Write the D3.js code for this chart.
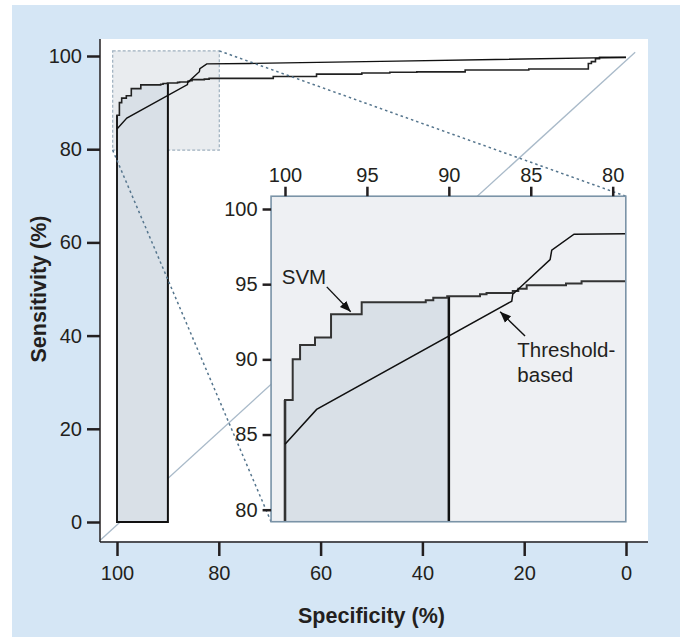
<!DOCTYPE html>
<html>
<head>
<meta charset="utf-8">
<script src="https://cdn.jsdelivr.net/npm/d3@7"></script>
<style>
  body { margin: 0; background: #fff; }
  text { fill: #231f20; }
</style>
</head>
<body>
<div id="chart"></div>
<script>
// ROC data (specificity %, sensitivity %)
const svmSpec = [100, 100, 99.53, 99.08, 98.17, 97.19, 95.32, 91.41, 90.95, 90.1, 88.1, 87.7, 86.1, 85.76, 85.25, 82.85, 81.9, 69.3, 60.8, 51.9, 46.4, 41.1, 31.6, 19.1, 7.4, 6.8, 6.0, 5.2, 0]
const svmSens = [0, 87.3, 90.0, 90.95, 91.46, 93.0, 93.8, 93.93, 94.1, 94.2, 94.33, 94.42, 94.55, 94.7, 94.93, 95.04, 95.2, 95.6, 96.1, 96.35, 96.5, 96.6, 97.0, 97.2, 98.4, 98.8, 99.4, 99.7, 99.7]

const thrSpec = [100, 98.07, 86.16, 86.1, 83.82, 83.72, 82.36, 74, 45, 0]
const thrSens = [84.35, 86.67, 93.87, 94.33, 96.64, 97.26, 98.32, 98.4, 98.9, 99.7]

const diagSpec = [103.3, -1.8]
const diagSens = [-3.9, 100.8]

const xTicks = [100, 80, 60, 40, 20, 0]
const yTicks = [0, 20, 40, 60, 80, 100]
const insetXTicks = [100, 95, 90, 85, 80]
const insetYTicks = [80, 85, 90, 95, 100]

// zoomed window (main plot) and inset extent
const zoomSpec = [100.85, 79.9], zoomSens = [79.8, 101.1]
const insetSpec = [100.85, 79.2], insetSens = [79.2, 100.85]
const pauc = [100, 90]   // partial AUC band

const labels = [
  { text: "SVM", spec: 100.2, sens: 95.0 },
  { text: "Threshold-", spec: 85.82, sens: 90.17 },
  { text: "based", spec: 85.82, sens: 88.5 }
]
const arrows = [
  { from: [97.45, 94.82], to: [95.99, 93.16] },
  { from: [85.35, 91.56], to: [86.87, 93.16] }
]

const svmData = svmSpec.map((s, i) => ({ spec: s, sens: svmSens[i] }))
const thrData = thrSpec.map((s, i) => ({ spec: s, sens: thrSens[i] }))

const FONT = '"Liberation Sans", Arial, Helvetica, sans-serif'
const W = 680, H = 637

var svg = d3.select("#chart").append("svg")
    .attr("width", W).attr("height", H)

// background and plotting panel
svg.append("rect").attr("x", 12).attr("y", 5).attr("width", W - 12).attr("height", H - 5)
    .attr("fill", "#d5e6f5")
svg.append("rect").attr("x", 100).attr("y", 39).attr("width", 548).attr("height", 502)
    .attr("fill", "#fff")

var x = d3.scaleLinear().domain([100, 0]).range([117, 626])
var y = d3.scaleLinear().domain([0, 100]).range([522, 56])

var xi = d3.scaleLinear().domain([100, 80]).range([285, 612.7])
var yi = d3.scaleLinear().domain([80, 100]).range([509.7, 209])

var defs = svg.append("defs")
defs.append("marker").attr("id", "arrow")
    .attr("viewBox", "0 0 10 10").attr("refX", 10).attr("refY", 5)
    .attr("markerWidth", 11).attr("markerHeight", 11)
    .attr("markerUnits", "userSpaceOnUse")
    .attr("orient", "auto")
    .append("path").attr("d", "M0,1 L10,5 L0,9 Z").attr("fill", "#111")

defs.append("clipPath").attr("id", "mainclip")
    .append("rect").attr("x", 100).attr("y", 39).attr("width", 548).attr("height", 502)
defs.append("clipPath").attr("id", "insetclip")
    .append("rect")
    .attr("x", xi(insetSpec[0])).attr("y", yi(insetSens[1]))
    .attr("width", xi(insetSpec[1]) - xi(insetSpec[0]))
    .attr("height", yi(insetSens[0]) - yi(insetSens[1]))

var main = svg.append("g").attr("clip-path", "url(#mainclip)")

// zoom window
main.append("rect")
    .attr("x", x(zoomSpec[0])).attr("y", y(zoomSens[1]))
    .attr("width", x(zoomSpec[1]) - x(zoomSpec[0]))
    .attr("height", y(zoomSens[0]) - y(zoomSens[1]))
    .attr("fill", "#e9ecef")
    .attr("stroke", "#9eb0bf").attr("stroke-width", 1.2)
    .attr("stroke-dasharray", "3,2")

// chance diagonal
main.append("line")
    .attr("x1", x(diagSpec[0])).attr("y1", y(diagSens[0]))
    .attr("x2", x(diagSpec[1])).attr("y2", y(diagSens[1]))
    .attr("stroke", "#a9bac9").attr("stroke-width", 1.3)

function paucArea(xs, ys, base) {
    const pts = svmData.filter(d => d.spec >= pauc[1])
    pts.push({ spec: pauc[1], sens: pts[pts.length - 1].sens })
    return d3.area().curve(d3.curveStepAfter)
        .x(d => xs(d.spec)).y0(ys(base)).y1(d => ys(d.sens))(pts)
}
function paucEdge(xs, ys, base) {
    const top0 = svmData.filter(d => d.spec >= pauc[0]).slice(-1)[0].sens
    const top1 = svmData.filter(d => d.spec >= pauc[1]).slice(-1)[0].sens
    return d3.line()([[xs(pauc[0]), ys(top0)], [xs(pauc[0]), ys(base)],
        [xs(pauc[1]), ys(base)], [xs(pauc[1]), ys(top1)]])
}

main.append("path").attr("d", paucArea(x, y, 0)).attr("fill", "#d9e0e7")
main.append("path").attr("d", paucEdge(x, y, 0))
    .attr("fill", "none").attr("stroke", "#111").attr("stroke-width", 2)

var lineMain = d3.line().x(d => x(d.spec)).y(d => y(d.sens))
main.append("path").datum(svmData)
    .attr("d", lineMain.curve(d3.curveStepAfter))
    .attr("fill", "none").attr("stroke", "#222").attr("stroke-width", 1.6)
main.append("path").datum(thrData)
    .attr("d", d3.line().x(d => x(d.spec)).y(d => y(d.sens)))
    .attr("fill", "none").attr("stroke", "#111").attr("stroke-width", 1.4)

// connectors from zoom window to inset
svg.append("g").selectAll("line")
    .data([[[zoomSpec[1], zoomSens[1]], [insetSpec[1], insetSens[1]]],
           [[zoomSpec[0], zoomSens[0]], [insetSpec[0], insetSens[0]]]])
    .enter().append("line")
    .attr("x1", d => x(d[0][0])).attr("y1", d => y(d[0][1]))
    .attr("x2", d => xi(d[1][0])).attr("y2", d => yi(d[1][1]))
    .attr("stroke", "#55758d").attr("stroke-width", 1.5)
    .attr("stroke-dasharray", "2.5,3")

// main axes
function styleAxis(g, size) {
    g.select(".domain").remove()
    g.attr("font-family", FONT).attr("font-size", size)
    g.selectAll(".tick line").attr("stroke", "#231f20").attr("stroke-width", 2.5)
    g.selectAll(".tick text").attr("fill", "#231f20")
}

svg.append("g").attr("transform", "translate(100,0)")
    .call(d3.axisLeft(y).tickValues(yTicks).tickSize(13).tickPadding(5))
    .call(g => styleAxis(g, 20))
svg.append("g").attr("transform", "translate(0,542)")
    .call(d3.axisBottom(x).tickValues(xTicks).tickSize(14).tickPadding(10))
    .call(g => styleAxis(g, 20))

svg.append("line").attr("x1", 100).attr("x2", 100).attr("y1", 39).attr("y2", 542)
    .attr("stroke", "#231f20").attr("stroke-width", 1.5)
svg.append("line").attr("x1", 100).attr("x2", 648).attr("y1", 542).attr("y2", 542)
    .attr("stroke", "#231f20").attr("stroke-width", 1.5)

svg.append("text")
    .attr("transform", "translate(46," + (y(50)) + ") rotate(-90)")
    .attr("text-anchor", "middle")
    .attr("font-family", FONT).attr("font-size", 21.5).attr("font-weight", "bold")
    .text("Sensitivity (%)")
svg.append("text")
    .attr("x", x(50)).attr("y", 623)
    .attr("text-anchor", "middle")
    .attr("font-family", FONT).attr("font-size", 21.5).attr("font-weight", "bold")
    .text("Specificity (%)")

// inset
var inset = svg.append("g")
inset.append("rect")
    .attr("x", xi(insetSpec[0])).attr("y", yi(insetSens[1]))
    .attr("width", xi(insetSpec[1]) - xi(insetSpec[0]))
    .attr("height", yi(insetSens[0]) - yi(insetSens[1]))
    .attr("fill", "#eef0f3")

var inner = inset.append("g").attr("clip-path", "url(#insetclip)")
inner.append("path").attr("d", paucArea(xi, yi, 0)).attr("fill", "#d9e0e7")
inner.append("path").attr("d", paucEdge(xi, yi, 0))
    .attr("fill", "none").attr("stroke", "#111").attr("stroke-width", 2.5)
inner.append("path").datum(svmData)
    .attr("d", d3.line().curve(d3.curveStepAfter).x(d => xi(d.spec)).y(d => yi(d.sens)))
    .attr("fill", "none").attr("stroke", "#333").attr("stroke-width", 2)
inner.append("path").datum(thrData)
    .attr("d", d3.line().x(d => xi(d.spec)).y(d => yi(d.sens)))
    .attr("fill", "none").attr("stroke", "#111").attr("stroke-width", 1.5)

inset.append("rect")
    .attr("x", xi(insetSpec[0])).attr("y", yi(insetSens[1]))
    .attr("width", xi(insetSpec[1]) - xi(insetSpec[0]))
    .attr("height", yi(insetSens[0]) - yi(insetSens[1]))
    .attr("fill", "none").attr("stroke", "#7a93a7").attr("stroke-width", 1.6)

inset.append("g").attr("transform", "translate(0," + yi(insetSens[1]) + ")")
    .call(d3.axisTop(xi).tickValues(insetXTicks).tickSize(9.5).tickPadding(5))
    .call(g => styleAxis(g, 20))
inset.append("g").attr("transform", "translate(" + xi(insetSpec[0]) + ",0)")
    .call(d3.axisLeft(yi).tickValues(insetYTicks).tickSize(8.5).tickPadding(5))
    .call(g => styleAxis(g, 20))

inset.selectAll(".lbl").data(labels).enter().append("text")
    .attr("x", d => xi(d.spec)).attr("y", d => yi(d.sens))
    .attr("font-family", FONT).attr("font-size", 20.5)
    .text(d => d.text)

inset.selectAll(".arr").data(arrows).enter().append("line")
    .attr("x1", d => xi(d.from[0])).attr("y1", d => yi(d.from[1]))
    .attr("x2", d => xi(d.to[0])).attr("y2", d => yi(d.to[1]))
    .attr("stroke", "#111").attr("stroke-width", 1.4)
    .attr("marker-end", "url(#arrow)")
</script>
</body>
</html>
